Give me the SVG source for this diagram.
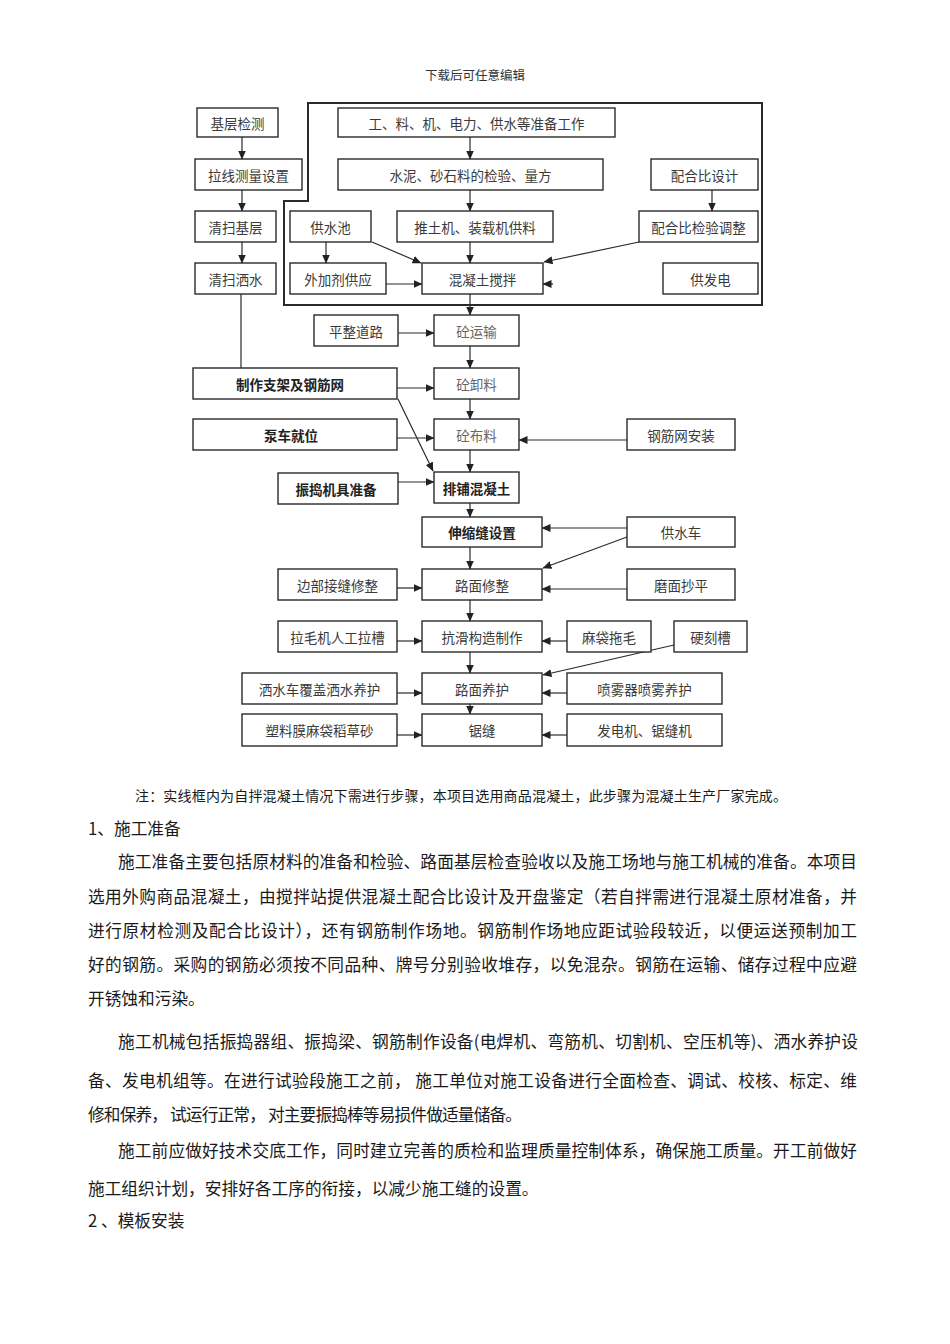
<svg xmlns="http://www.w3.org/2000/svg" width="950" height="1344" viewBox="0 0 950 1344">
<style>
.b{fill:#fff;stroke:#2a2a2a;stroke-width:1.4}
.t{font-family:"Noto Sans CJK SC","Noto Sans",sans-serif;font-size:13.5px;fill:#3a3a3a;text-anchor:middle;dominant-baseline:central}
.k{font-weight:bold;fill:#222}
.g{fill:#666}
.c{stroke:#2a2a2a;stroke-width:1.2;fill:none}
.a{marker-end:url(#ah)}
.p{font-family:"Noto Sans CJK SC","Noto Sans",sans-serif;font-size:16.7px;fill:#1a1a1a}
</style>
<defs>
<marker id="ah" markerUnits="userSpaceOnUse" markerWidth="9" markerHeight="8" refX="8.5" refY="4" orient="auto">
<path d="M0,0 L9,4 L0,8 Z" fill="#222"/>
</marker>
</defs>
<rect width="950" height="1344" fill="#fff"/>
<text x="475" y="74" class="t" style="font-size:12.5px;fill:#333">下载后可任意编辑</text>

<path id="frame" d="M308 103 H762 V305 H284 V201 H308 Z" fill="none" stroke="#2a2a2a" stroke-width="2"/>

<g id="connectors">
<path class="c a" d="M242 137 V159"/>
<path class="c a" d="M242 190 V211"/>
<path class="c a" d="M242 242 V263"/>
<path class="c" d="M241 294 V368"/>
<path class="c a" d="M470 137 V159"/>
<path class="c a" d="M470 190 V211"/>
<path class="c a" d="M470 242 V263"/>
<path class="c a" d="M326 242 V263"/>
<path class="c a" d="M372 242 L421 263"/>
<path class="c a" d="M386 284 H422"/>
<path class="c a" d="M712 190 V211"/>
<path class="c a" d="M639 242 L544 262"/>
<path class="c a" d="M553 284 H543"/>
<path class="c a" d="M470 294 V315"/>
<path class="c a" d="M398 333 H434"/>
<path class="c a" d="M470 346 V368"/>
<path class="c a" d="M397 388 H434"/>
<path class="c a" d="M398 399 L433 471"/>
<path class="c a" d="M470 399 V419"/>
<path class="c a" d="M397 438 H434"/>
<path class="c a" d="M627 440 H519"/>
<path class="c a" d="M470 450 V472"/>
<path class="c a" d="M398 482 H434"/>
<path class="c a" d="M470 503 V517"/>
<path class="c a" d="M627 528 H542"/>
<path class="c a" d="M627 537 L543 568"/>
<path class="c a" d="M470 547 V569"/>
<path class="c a" d="M397 588 H422"/>
<path class="c a" d="M627 589 H542"/>
<path class="c a" d="M470 600 V621"/>
<path class="c a" d="M397 641 H422"/>
<path class="c a" d="M567 641 H542"/>
<path class="c a" d="M470 652 V673"/>
<path class="c a" d="M674 645 L543 675"/>
<path class="c a" d="M397 693 H422"/>
<path class="c a" d="M567 693 H542"/>
<path class="c a" d="M470 704 V714"/>
<path class="c a" d="M397 735 H422"/>
<path class="c a" d="M567 735 H542"/>
</g>

<g id="n1"><rect class="b" x="197" y="108" width="81" height="29"/><text class="t" x="237.5" y="122.5">基层检测</text></g>
<g id="n2"><rect class="b" x="195" y="159" width="107" height="31"/><text class="t" x="248.5" y="174.5">拉线测量设置</text></g>
<g id="n3"><rect class="b" x="195" y="211" width="81" height="31"/><text class="t" x="235.5" y="226.5">清扫基层</text></g>
<g id="n4"><rect class="b" x="195" y="263" width="81" height="31"/><text class="t" x="235.5" y="278.5">清扫洒水</text></g>
<g id="n5"><rect class="b" x="338" y="108" width="277" height="29"/><text class="t" x="476.5" y="122.5">工、料、机、电力、供水等准备工作</text></g>
<g id="n6"><rect class="b" x="338" y="159" width="265" height="31"/><text class="t" x="470.5" y="174.5">水泥、砂石料的检验、量方</text></g>
<g id="n7"><rect class="b" x="651" y="159" width="107" height="31"/><text class="t" x="704.5" y="174.5">配合比设计</text></g>
<g id="n8"><rect class="b" x="290" y="211" width="81" height="31"/><text class="t" x="330.5" y="226.5">供水池</text></g>
<g id="n9"><rect class="b" x="397" y="211" width="156" height="31"/><text class="t" x="475" y="226.5">推土机、装载机供料</text></g>
<g id="n10"><rect class="b" x="639" y="211" width="119" height="31"/><text class="t" x="698.5" y="226.5">配合比检验调整</text></g>
<g id="n11"><rect class="b" x="290" y="263" width="96" height="31"/><text class="t" x="338" y="278.5">外加剂供应</text></g>
<g id="n12"><rect class="b" x="422" y="263" width="121" height="31"/><text class="t" x="482.5" y="278.5">混凝土搅拌</text></g>
<g id="n13"><rect class="b" x="663" y="263" width="95" height="31"/><text class="t" x="710.5" y="278.5">供发电</text></g>
<g id="n14"><rect class="b" x="314" y="315" width="84" height="31"/><text class="t" x="356" y="330.5">平整道路</text></g>
<g id="n15"><rect class="b" x="434" y="315" width="85" height="31"/><text class="t g" x="476.5" y="330.5">砼运输</text></g>
<g id="n16"><rect class="b" x="193" y="368" width="204" height="31"/><text class="t k" x="290" y="383.5">制作支架及钢筋网</text></g>
<g id="n17"><rect class="b" x="434" y="368" width="85" height="31"/><text class="t g" x="476.5" y="383.5">砼卸料</text></g>
<g id="n18"><rect class="b" x="193" y="419" width="204" height="31"/><text class="t k" x="291" y="434.5">泵车就位</text></g>
<g id="n19"><rect class="b" x="434" y="419" width="85" height="31"/><text class="t g" x="476.5" y="434.5">砼布料</text></g>
<g id="n20"><rect class="b" x="627" y="419" width="108" height="31"/><text class="t" x="681" y="434.5">钢筋网安装</text></g>
<g id="n21"><rect class="b" x="278" y="473" width="120" height="31"/><text class="t k" x="336" y="488.5">振捣机具准备</text></g>
<g id="n22"><rect class="b" x="434" y="472" width="85" height="31"/><text class="t k" x="476.5" y="487.5">排铺混凝土</text></g>
<g id="n23"><rect class="b" x="422" y="517" width="120" height="30"/><text class="t k" x="482" y="532">伸缩缝设置</text></g>
<g id="n24"><rect class="b" x="627" y="517" width="108" height="30"/><text class="t" x="681" y="532">供水车</text></g>
<g id="n25"><rect class="b" x="278" y="569" width="119" height="31"/><text class="t" x="337.5" y="584.5">边部接缝修整</text></g>
<g id="n26"><rect class="b" x="422" y="569" width="120" height="31"/><text class="t" x="482" y="584.5">路面修整</text></g>
<g id="n27"><rect class="b" x="627" y="569" width="108" height="31"/><text class="t" x="681" y="584.5">磨面抄平</text></g>
<g id="n28"><rect class="b" x="278" y="621" width="119" height="31"/><text class="t" x="337.5" y="636.5">拉毛机人工拉槽</text></g>
<g id="n29"><rect class="b" x="422" y="621" width="120" height="31"/><text class="t" x="482" y="636.5">抗滑构造制作</text></g>
<g id="n30"><rect class="b" x="567" y="621" width="84" height="31"/><text class="t" x="609" y="636.5">麻袋拖毛</text></g>
<g id="n31"><rect class="b" x="674" y="621" width="73" height="31"/><text class="t" x="710.5" y="636.5">硬刻槽</text></g>
<g id="n32"><rect class="b" x="242" y="673" width="155" height="31"/><text class="t" x="319.5" y="688.5">洒水车覆盖洒水养护</text></g>
<g id="n33"><rect class="b" x="422" y="673" width="120" height="31"/><text class="t" x="482" y="688.5">路面养护</text></g>
<g id="n34"><rect class="b" x="567" y="673" width="155" height="31"/><text class="t" x="644.5" y="688.5">喷雾器喷雾养护</text></g>
<g id="n35"><rect class="b" x="242" y="714" width="155" height="32"/><text class="t" x="319.5" y="730">塑料膜麻袋稻草砂</text></g>
<g id="n36"><rect class="b" x="422" y="714" width="120" height="32"/><text class="t" x="482" y="730">锯缝</text></g>
<g id="n37"><rect class="b" x="567" y="714" width="155" height="32"/><text class="t" x="644.5" y="730">发电机、锯缝机</text></g>

<g id="body">
<text class="p" x="135" y="801" style="font-size:14px" textLength="652" lengthAdjust="spacing">注：实线框内为自拌混凝土情况下需进行步骤，本项目选用商品混凝土，此步骤为混凝土生产厂家完成。</text>
<text class="p" x="88" y="835">1、施工准备</text>
<text class="p" x="118" y="868" textLength="739" lengthAdjust="spacing">施工准备主要包括原材料的准备和检验、路面基层检查验收以及施工场地与施工机械的准备。本项目</text>
<text class="p" x="88" y="903" textLength="769" lengthAdjust="spacing">选用外购商品混凝土，由搅拌站提供混凝土配合比设计及开盘鉴定（若自拌需进行混凝土原材准备，并</text>
<text class="p" x="88" y="937" textLength="769" lengthAdjust="spacing">进行原材检测及配合比设计），还有钢筋制作场地。钢筋制作场地应距试验段较近，以便运送预制加工</text>
<text class="p" x="88" y="971" textLength="769" lengthAdjust="spacing">好的钢筋。采购的钢筋必须按不同品种、牌号分别验收堆存，以免混杂。钢筋在运输、储存过程中应避</text>
<text class="p" x="88" y="1005">开锈蚀和污染。</text>
<text class="p" x="118" y="1048" textLength="740" lengthAdjust="spacing">施工机械包括振捣器组、振捣梁、钢筋制作设备(电焊机、弯筋机、切割机、空压机等)、洒水养护设</text>
<text class="p" x="88" y="1087" textLength="769" lengthAdjust="spacing">备、发电机组等。在进行试验段施工之前， 施工单位对施工设备进行全面检查、调试、校核、标定、维</text>
<text class="p" x="88" y="1121" textLength="434" lengthAdjust="spacing">修和保养， 试运行正常， 对主要振捣棒等易损件做适量储备。</text>
<text class="p" x="118" y="1157" textLength="739" lengthAdjust="spacing">施工前应做好技术交底工作，同时建立完善的质检和监理质量控制体系，确保施工质量。开工前做好</text>
<text class="p" x="88" y="1195">施工组织计划，安排好各工序的衔接，以减少施工缝的设置。</text>
<text class="p" x="88" y="1227">2 、模板安装</text>
</g>
</svg>
